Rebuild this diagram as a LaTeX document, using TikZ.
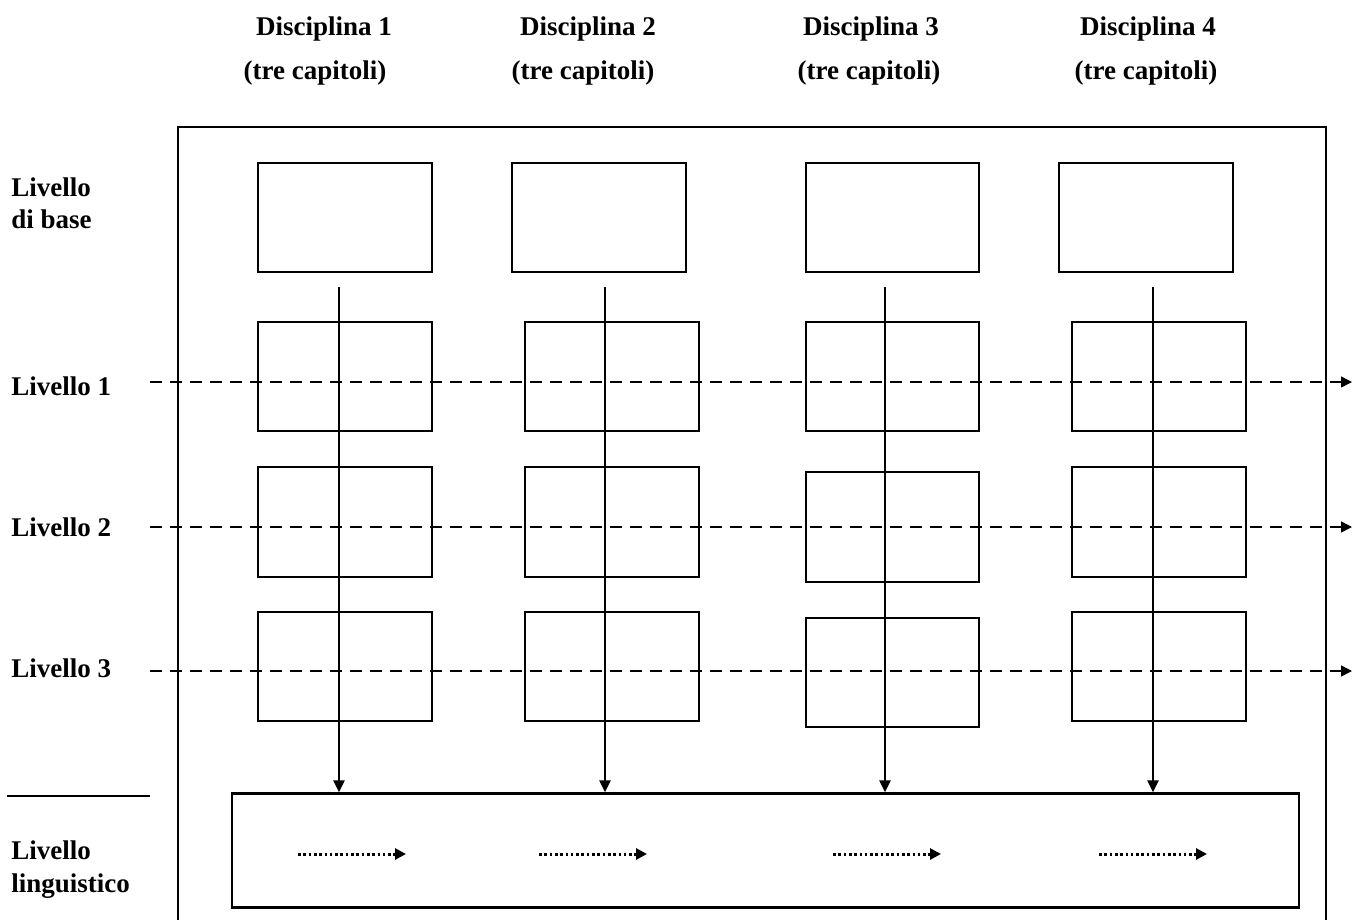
\documentclass[tikz,border=0pt]{standalone}
\usepackage{fontspec}
\setmainfont{Liberation Serif}
\usetikzlibrary{arrows.meta}
\begin{document}
\begin{tikzpicture}[x=0.5pt,y=-0.5pt,
  every node/.style={font=\fontsize{13.5}{16}\selectfont\bfseries, inner sep=0pt},
  cell/.style={draw, line width=1.2pt, inner sep=0pt},
  lbl/.style={anchor=base west},
  hdr/.style={anchor=base},
  varrow/.style={line width=1.3pt, -{Triangle[length=6pt,width=5.5pt]}},
  harrow/.style={line width=0.75pt, dash pattern=on 6pt off 4pt, -{Triangle[length=5.5pt,width=5.5pt]}},
  darrow/.style={line width=1.5pt, dash pattern=on 1.3pt off 1.35pt, -{Triangle[length=5.5pt,width=5.5pt]}},
  frame/.style={line width=1.2pt}]
\useasboundingbox (0,0) rectangle (1355,920);
% outer frame (bottom edge lies outside the picture)
\coordinate (fbl) at (178,930);
\coordinate (ftl) at (178,127);
\coordinate (ftr) at (1326,127);
\coordinate (fbr) at (1326,930);
\draw[frame] (fbl) -- (ftl) -- (ftr) -- (fbr);
% headers
\node[hdr] (d1) at (324,36) {Disciplina 1};
\node[hdr] (t1) at (315,80) {(tre capitoli)};
\node[hdr] (d2) at (588,36) {Disciplina 2};
\node[hdr] (t2) at (583,80) {(tre capitoli)};
\node[hdr] (d3) at (871,36) {Disciplina 3};
\node[hdr] (t3) at (869,80) {(tre capitoli)};
\node[hdr] (d4) at (1148,36) {Disciplina 4};
\node[hdr] (t4) at (1146,80) {(tre capitoli)};
% row labels
\node[lbl] (lb1) at (11,197) {Livello};
\node[lbl] (lb2) at (11,228) {di base};
\node[lbl] (l1) at (11,395) {Livello 1};
\node[lbl] (l2) at (11,536) {Livello 2};
\node[lbl] (l3) at (11,677) {Livello 3};
\node[lbl] (ll1) at (11,859) {Livello};
\node[lbl] (ll2) at (11,892) {linguistico};
\coordinate (sepa) at (7,796);
\coordinate (sepb) at (150,796);
\draw[line width=1.2pt] (sepa) -- (sepb);
% row 0 boxes
\node[cell, minimum width=87pt, minimum height=54.5pt] (b01) at (345,217.5) {};
\node[cell, minimum width=87pt, minimum height=54.5pt] (b02) at (599,217.5) {};
\node[cell, minimum width=86.5pt, minimum height=54.5pt] (b03) at (892.5,217.5) {};
\node[cell, minimum width=87pt, minimum height=54.5pt] (b04) at (1146,217.5) {};
% row 1 boxes
\node[cell, minimum width=87pt, minimum height=54.5pt] (b11) at (345,376.5) {};
\node[cell, minimum width=87pt, minimum height=54.5pt] (b12) at (612,376.5) {};
\node[cell, minimum width=86.5pt, minimum height=54.5pt] (b13) at (892.5,376.5) {};
\node[cell, minimum width=87pt, minimum height=54.5pt] (b14) at (1159,376.5) {};
% row 2 boxes
\node[cell, minimum width=87pt, minimum height=55pt] (b21) at (345,522) {};
\node[cell, minimum width=87pt, minimum height=55pt] (b22) at (612,522) {};
\node[cell, minimum width=86.5pt, minimum height=55pt] (b23) at (892.5,527) {};
\node[cell, minimum width=87pt, minimum height=55pt] (b24) at (1159,522) {};
% row 3 boxes
\node[cell, minimum width=87pt, minimum height=54.5pt] (b31) at (345,666.5) {};
\node[cell, minimum width=87pt, minimum height=54.5pt] (b32) at (612,666.5) {};
\node[cell, minimum width=86.5pt, minimum height=54.5pt] (b33) at (892.5,672.5) {};
\node[cell, minimum width=87pt, minimum height=54.5pt] (b34) at (1159,666.5) {};
% bottom box
\node[cell, minimum width=533.5pt, minimum height=57pt] (bot) at (765.5,850.5) {};
% dashed horizontal arrows
\coordinate (h1s) at (150,382);  \coordinate (h1e) at (1352,382);
\coordinate (h2s) at (150,527);  \coordinate (h2e) at (1352,527);
\coordinate (h3s) at (150,671);  \coordinate (h3e) at (1352,671);
\draw[harrow] (h1s) -- (h1e);
\draw[harrow] (h2s) -- (h2e);
\draw[harrow] (h3s) -- (h3e);
% vertical arrows
\coordinate (v1) at (339,287);
\coordinate (v2) at (605,287);
\coordinate (v3) at (885,287);
\coordinate (v4) at (1153,287);
\draw[varrow] (v1) -- (v1 |- bot.north);
\draw[varrow] (v2) -- (v2 |- bot.north);
\draw[varrow] (v3) -- (v3 |- bot.north);
\draw[varrow] (v4) -- (v4 |- bot.north);
% dotted arrows inside bottom box
\coordinate (p1s) at (298,854); \coordinate (p1e) at (406,854);
\coordinate (p2s) at (539,854); \coordinate (p2e) at (647,854);
\coordinate (p3s) at (833,854); \coordinate (p3e) at (941,854);
\coordinate (p4s) at (1099,854); \coordinate (p4e) at (1207,854);
\draw[darrow] (p1s) -- (p1e);
\draw[darrow] (p2s) -- (p2e);
\draw[darrow] (p3s) -- (p3e);
\draw[darrow] (p4s) -- (p4e);
\end{tikzpicture}
\end{document}
